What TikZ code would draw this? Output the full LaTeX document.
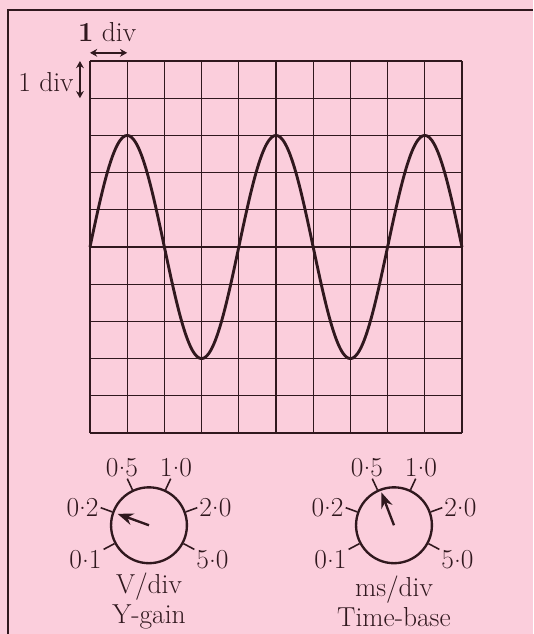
\documentclass[tikz,border=0pt]{standalone}
\usepackage{tikz}
\usetikzlibrary{arrows.meta}
\usepackage{xcolor}
\definecolor{cardpink}{RGB}{251,206,220}
\definecolor{ink}{RGB}{48,24,30}
\newcommand\dpt{\raisebox{0.24em}{.}}

\begin{document}
\begin{tikzpicture}[x=1cm,y=1cm,
  lbl/.style={font=\fontsize{21}{23}\selectfont,text=ink,inner sep=1pt},
  knob/.style={circle,draw=ink,line width=1.8pt,minimum size=2.04cm,inner sep=0pt},
  dimarrow/.style={{Stealth[length=5.5pt,width=6pt]}-{Stealth[length=5.5pt,width=6pt]},ink,line width=1.3pt},
  pointer/.style={-{Stealth[length=12pt,width=9pt]},ink,line width=1.8pt}]
% card and its frame (only top and left edges show)
\fill[cardpink] (-2.419,-5.403) rectangle (11.909,11.640);
\useasboundingbox (-2.419,-5.403) rectangle (11.909,11.640);
\draw[ink,line width=2pt] (-2.204,-5.403) -- (-2.204,11.371) -- (11.909,11.371);
% screen graticule, 10 x 10 div
\draw[ink,line width=0.9pt] (0,0) grid (10,10);
% trace: amplitude 3 div, period 4 div
\draw[ink,line width=2.2pt,line join=round] plot[domain=0:10,samples=161,smooth] (\x,{5+3*sin(90*\x)});
% size of one division
\coordinate (hl) at (0,10.22);
\coordinate (hr) at (1,10.22);
\draw[dimarrow] (hl) -- (hr);
\node[lbl] (hdiv) at (0.46,10.78) {\textbf{1} div};
\coordinate (vt) at (-0.27,10);
\coordinate (vb) at (-0.27,9);
\draw[dimarrow] (vt) -- (vb);
\node[lbl,anchor=east] (vdiv) at (-0.40,9.42) {1 div};
% Y-gain knob, set to 0.2 V/div
\node[knob] (yg) at (1.586,-2.48) {};
\foreach \a/\t/\n/\k in {208/0\dpt1/a/30,160/0\dpt2/b/east,115/0\dpt5/c/295,65/1\dpt0/d/245,20/2\dpt0/e/west,-28/5\dpt0/f/150}
  \draw[ink,line width=1.2pt] (yg.\a) -- ++(\a:0.33) node[lbl,anchor=\k] (yg\n) {\t};
\path (yg.center) ++(160:0.9) coordinate (ygtip);
\draw[pointer] (yg.center) -- (ygtip);
\node[lbl,align=center] (ygname) at (1.586,-4.52) {V/div\\Y-gain};
% time-base knob, set to 0.5 ms/div
\node[knob] (tb) at (8.172,-2.48) {};
\foreach \a/\t/\n/\k in {208/0\dpt1/a/30,160/0\dpt2/b/east,115/0\dpt5/c/295,65/1\dpt0/d/245,20/2\dpt0/e/west,-28/5\dpt0/f/150}
  \draw[ink,line width=1.2pt] (tb.\a) -- ++(\a:0.33) node[lbl,anchor=\k] (tb\n) {\t};
\path (tb.center) ++(111:0.95) coordinate (tbtip);
\draw[pointer] (tb.center) -- (tbtip);
\node[lbl,align=center] (tbname) at (8.172,-4.52) {ms/div\\Time-base};
\end{tikzpicture}
\end{document}
